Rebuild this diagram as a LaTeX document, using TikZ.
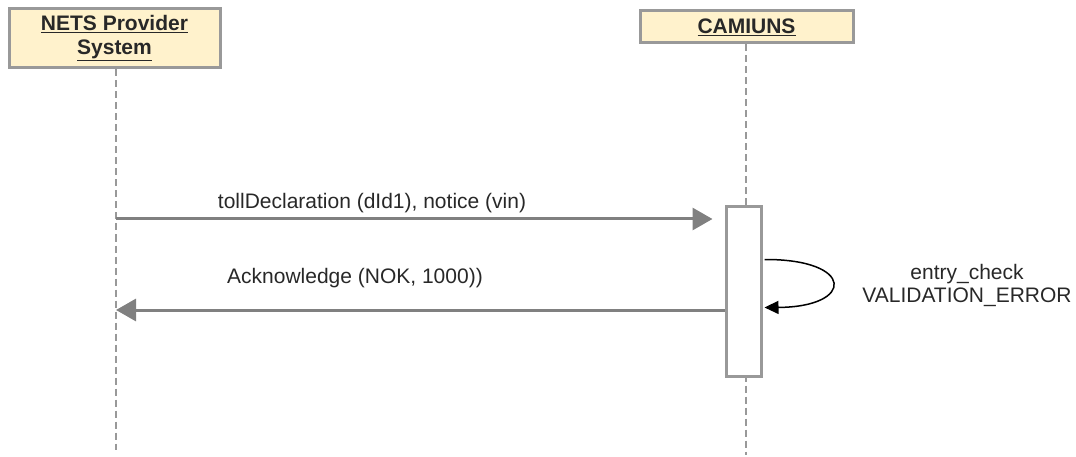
\documentclass[tikz,border=0pt]{standalone}
\usepackage{fontspec}
\setmainfont{Liberation Sans}
\usepackage{tikz}
\usetikzlibrary{arrows.meta,positioning,calc}
\usepackage{xcolor}
\definecolor{headfill}{RGB}{255,242,204}
\definecolor{linegray}{RGB}{128,128,128}
\definecolor{boxgray}{RGB}{153,153,153}
\definecolor{txtgray}{RGB}{40,40,40}

\begin{document}
\begin{tikzpicture}[x=1pt,y=-1pt,every node/.style={font=\fontsize{21}{23}\selectfont,text=txtgray},
    headbox/.style={draw=boxgray,line width=3pt,fill=headfill,align=center,inner sep=0pt,font=\fontsize{21}{24}\selectfont\bfseries},
    lifeline/.style={draw=boxgray,line width=2.5pt,dash pattern=on 7pt off 4pt},
    actbox/.style={draw=boxgray,line width=3pt,fill=white,minimum width=35pt,minimum height=169pt,inner sep=0pt},
    msg/.style={draw=linegray,line width=3pt,-{Triangle[length=20pt,width=22pt]}},
    selfmsg/.style={draw=black,line width=1.5pt,-{Triangle[length=14pt,width=13pt]}}]
  \useasboundingbox (0,0) rectangle (1076,457);
  % participants
  \node[headbox,minimum width=211pt,minimum height=59pt] (nets) at (114.5,38.5) {\underline{NETS Provider}\\\underline{System}};
  \node[headbox,minimum width=213pt,minimum height=32pt] (cam) at (746.5,27) {\underline{CAMIUNS}};
  \coordinate (netsend) at (116,450);
  \coordinate (camend) at (746,455);
  \draw[lifeline] (nets.south -| netsend) -- (netsend);
  \draw[lifeline] (cam.south -| camend) -- (camend);
  % activation
  \node[actbox] (act) at (743.5,291.5) {};
  % messages
  \coordinate (m1) at (116,219);
  \draw[msg,shorten >=12pt] (m1) -- (m1 -| act.west);
  \node (m1lab) at (372,203) {tollDeclaration (dId1), notice (vin)};
  \coordinate (m2) at (116,310);
  \draw[msg] (m2 -| act.west) -- (m2);
  \node (m2lab) at (355,278) {Acknowledge (NOK, 1000))};
  % self call
  \coordinate (s1) at ($(act.east)+(2,-32)$);
  \coordinate (s2) at ($(act.east)+(2,16)$);
  \draw[selfmsg] (s1) .. controls (855,259) and (855,307) .. (s2);
  \node[align=center] (chk) at (967,285) {entry\_check\\VALIDATION\_ERROR};
\end{tikzpicture}
\end{document}
